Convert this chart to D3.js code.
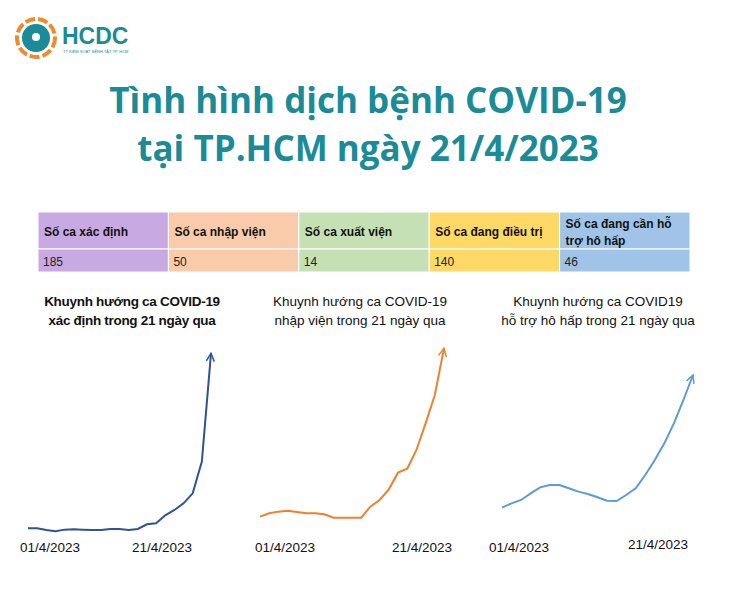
<!DOCTYPE html>
<html><head><meta charset="utf-8">
<script src="https://cdn.jsdelivr.net/npm/d3@7"></script>
<style>body{margin:0;background:#fff;font-family:"Liberation Sans",Arial,sans-serif}</style>
</head><body><svg id="c" width="730" height="612"></svg>
<script>
// table
const headers = ["Số ca xác định", "Số ca nhập viện", "Số ca xuất viện", "Số ca đang điều trị", "Số ca đang cần hỗ trợ hô hấp"];
const totals = [185, 50, 14, 140, 46];
const cellColors = ["#c9a9e2", "#f9cbab", "#c6e0b5", "#ffd966", "#9fc4e7"];

// trend series, 21 days (relative shape only)
const days = d3.range(21);
const confirmed = [15,15,10,6,11,12,11,10,10,13,13,10,13,27,30,54,70,90,120,215,540];
const admitted = [50,60,65,68,64,60,60,57,47,47,47,47,80,100,132,182,194,250,330,415,555];
const respiratory = [77,90,100,120,138,145,145,135,125,118,108,98,97,115,135,175,220,270,330,400,475];
const dateLabels = ["01/4/2023", "21/4/2023"];

const svg = d3.select("#c");
const teal = "#1b8b97";

// logo
const logo = svg.append("g").attr("transform", "translate(36,38)");
logo.append("circle").attr("r", 19).attr("fill", "none").attr("stroke", "#f08a2c").attr("stroke-width", 4).attr("stroke-dasharray", "10 3");
logo.append("circle").attr("r", 14).attr("fill", teal);
logo.append("circle").attr("r", 4).attr("cy", -1).attr("fill", "#fff");
svg.append("text").attr("x", 62).attr("y", 44).attr("fill", teal).attr("font-size", 23).attr("font-weight", "bold").text("HCDC");
svg.append("text").attr("x", 63).attr("y", 53).attr("fill", teal).attr("font-size", 4).text("TT KIỂM SOÁT BỆNH TẬT TP. HCM");

// title
const title = ["Tình hình dịch bệnh COVID-19", "tại TP.HCM ngày 21/4/2023"];
svg.selectAll(".title").data(title).join("text")
  .attr("x", 368).attr("y", (d, i) => 113 + i * 48)
  .attr("text-anchor", "middle").attr("fill", teal)
  .attr("font-family", "'Open Sans',sans-serif").attr("font-weight", "bold").attr("font-size", 35)
  .text(d => d);

// table
const colX = d3.scaleBand().domain(d3.range(5)).range([38, 690]);
const tg = svg.append("g");
headers.forEach((h, i) => {
  tg.append("rect").attr("x", colX(i)).attr("y", 212).attr("width", colX.bandwidth()).attr("height", 37).attr("fill", cellColors[i]).attr("stroke", "#fff");
  tg.append("rect").attr("x", colX(i)).attr("y", 249).attr("width", colX.bandwidth()).attr("height", 23).attr("fill", cellColors[i]).attr("stroke", "#fff");
  const words = i === 4 ? ["Số ca đang cần hỗ", "trợ hô hấp"] : [h];
  words.forEach((w, j) => {
    tg.append("text").attr("x", colX(i) + 6).attr("y", (i === 4 ? 228 : 236) + j * 17)
      .attr("font-size", 12).attr("font-weight", "bold").attr("fill", "#111").text(w);
  });
  tg.append("text").attr("x", colX(i) + 5).attr("y", 266).attr("font-size", 12).attr("fill", "#222").text(totals[i]);
});

// charts
const y = d3.scaleLinear().domain([0, 610]).range([533.3, 330]);
const charts = [
  {data: confirmed, color: "#2f529a", x0: 28, x1: 211, sub: ["Khuynh hướng ca COVID-19", "xác định trong 21 ngày qua"], cx: 132, bold: true, lab: [[50, 552], [162, 552]]},
  {data: admitted, color: "#f07f2e", x0: 260, x1: 444, sub: ["Khuynh hướng ca COVID-19", "nhập viện trong 21 ngày qua"], cx: 360, bold: false, lab: [[285, 552], [422, 552]]},
  {data: respiratory, color: "#5b9bd8", x0: 502, x1: 693, sub: ["Khuynh hướng ca COVID19", "hỗ trợ hô hấp trong 21 ngày qua"], cx: 598, bold: false, lab: [[519, 552], [658, 549]]}
];
const defs = svg.append("defs");
charts.forEach((c, k) => {
  defs.append("marker").attr("id", "ar" + k).attr("viewBox", "0 0 10 10").attr("refX", 9).attr("refY", 5)
    .attr("markerWidth", 5).attr("markerHeight", 5).attr("orient", "auto")
    .append("path").attr("d", "M1,1 L9,5 L1,9").attr("fill", "none").attr("stroke", c.color).attr("stroke-width", 1.5);
  const x = d3.scaleLinear().domain([0, 20]).range([c.x0, c.x1]);
  svg.append("path").datum(c.data)
    .attr("d", d3.line().x((d, i) => x(days[i])).y(d => y(d)))
    .attr("fill", "none").attr("stroke", c.color).attr("stroke-width", 2)
    .attr("marker-end", `url(#ar${k})`);
  c.sub.forEach((s, j) => svg.append("text").attr("x", c.cx).attr("y", 306 + j * 19)
    .attr("text-anchor", "middle").attr("font-size", 13.5).attr("fill", "#111")
    .attr("font-weight", c.bold ? "bold" : "normal").attr("letter-spacing", c.bold ? -0.3 : 0).text(s));
  dateLabels.forEach((t, j) => svg.append("text").attr("x", c.lab[j][0]).attr("y", c.lab[j][1])
    .attr("text-anchor", "middle").attr("font-size", 13.5).attr("fill", "#111").text(t));
});
</script></body></html>
